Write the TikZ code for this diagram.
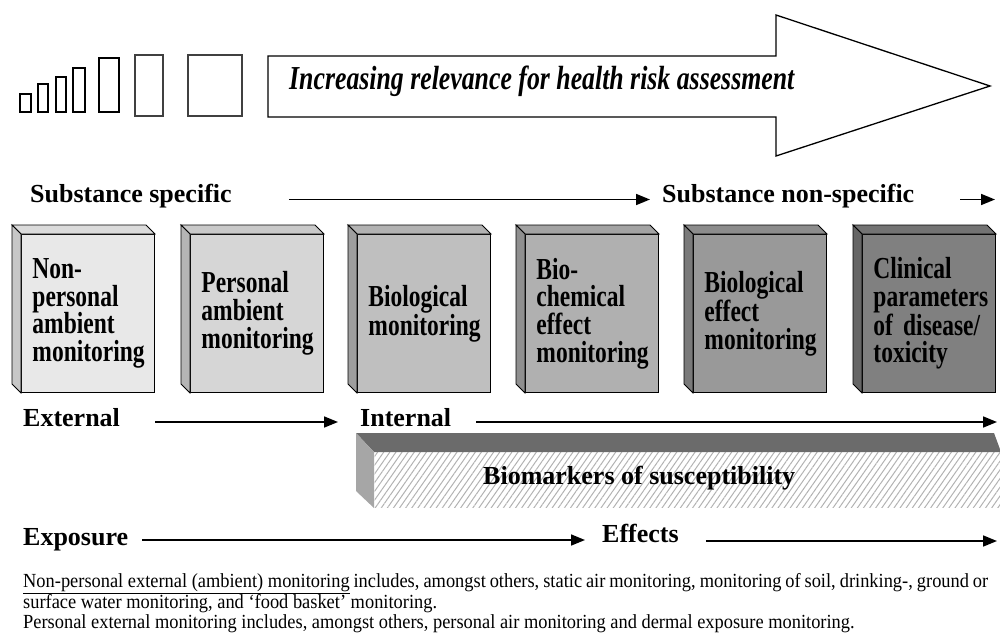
\documentclass[tikz,border=0pt]{standalone}
\usepackage{fontspec}
\setmainfont{Liberation Serif}
\newfontfamily\narrowserif[FakeStretch=0.77]{Liberation Serif}
\newfontfamily\noteserif[FakeStretch=0.92]{Liberation Serif}
\usetikzlibrary{arrows.meta,patterns.meta}

\tikzstyle{stagetext} = [font=\fontsize{26}{30}\selectfont\bfseries, inner sep=0pt, anchor=base west]
\tikzstyle{flow} = [draw, line width=1.7pt, -{Triangle[length=14pt,width=11pt]}]
\tikzstyle{monitor} = [draw, line width=0.9pt, anchor=north west, minimum width=133pt, minimum height=158pt,
  inner xsep=11pt, text width=111pt, align=left,
  font=\fontsize{30.5}{27.7}\selectfont\narrowserif\bfseries]
\tikzstyle{face} = [draw, line width=0.9pt]
\tikzstyle{rung} = [draw, line width=2.3pt]
\tikzstyle{wide rung} = [draw=black!75, line width=1.8pt]
\tikzstyle{note} = [font=\fontsize{20}{18.7}\selectfont\noteserif, inner sep=0pt, anchor=base west]

\begin{document}
\begin{tikzpicture}[x=1pt,y=-1pt]
     \useasboundingbox (0,0) rectangle (1000,634);

     % growing boxes on the left of the big arrow
     \foreach \a/\b/\c/\d in {20/94/31/112, 38/84/48/112, 56/77/66/112, 73/68/85/112, 99/58/119/112}
     \path[rung] (\a,\b) rectangle (\c,\d);
     \foreach \a/\b/\c/\d in {135/55/163/116, 188/55/242/116}
     \path[wide rung] (\a,\b) rectangle (\c,\d);

     % big arrow
     \draw[line width=1.3pt] (268,56) -- (776,56) -- (776,15) -- (990,86) -- (776,156) -- (776,117) -- (268,117) -- cycle;
     \node[font=\fontsize{33.5}{36}\selectfont\narrowserif\bfseries\itshape, inner sep=0pt, anchor=base west]
       (relevance) at (289,89.5) {Increasing relevance for health risk assessment};

     % substance row
     \node[stagetext] (ss) at (30,202.5) {Substance specific};
     \node[stagetext] (sns) at (662,202.5) {Substance non-specific};
     \coordinate (ssend) at (995,199.5);
     \path[flow, shorten <=57pt, shorten >=12pt] ([yshift=3pt]ss.base east) -- ([yshift=3pt]sns.base west);
     \path[flow, shorten <=46pt] ([yshift=3pt]sns.base east) -- (ssend);

     % the six monitoring boxes
     \foreach \x/\tone/\top/\side/\name/\txt in {21/9/14/22/nonpers/{Non-\\personal\\ambient\\monitoring},
       190/16/21/29/pers/{Personal\\ambient\\monitoring}, 357/25/30/38/biomon/{Biological\\monitoring},
       525/31/36/44/biochem/{Bio-\\chemical\\effect\\monitoring}, 693/40/45/52/bioeff/{Biological\\effect\\monitoring},
       862/50/55/60/clinical/{Clinical\\parameters\\\mbox{of disease/}\\toxicity}}
     {
       \node[monitor, fill=black!\tone] (\name) at (\x,234) {\txt};
       \path[face, fill=black!\top] (\name.north west) -- ++(-9,-9)
         -- ([shift={(-9,-9)}]\name.north east) -- (\name.north east) -- cycle;
       \path[face, fill=black!\side] (\name.north west) -- ++(-9,-9)
         -- ([shift={(-9,-9)}]\name.south west) -- (\name.south west) -- cycle;
     }

     % external / internal row
     \node[stagetext] (ext) at (23,426) {External};
     \node[stagetext] (int) at (360,426) {Internal};
     \coordinate (intend) at (997,422);
     \path[flow, shorten <=35pt, shorten >=22pt] ([yshift=4pt]ext.base east) -- ([yshift=4pt]int.base west);
     \path[flow, shorten <=25pt] ([yshift=4pt]int.base east) -- (intend);

     % susceptibility bar
     \node[pattern={Lines[angle=55,distance=5pt,line width=1pt]}, pattern color=black!30,
       minimum width=626pt, minimum height=55pt, inner sep=0pt, anchor=north west] (biomark) at (374,452) {};
     \fill[black!58] (biomark.north west) -- ++(-18,-19) -- ([shift={(-7,-19)}]biomark.north east)
       -- (biomark.north east) -- cycle;
     \fill[black!35] (biomark.north west) -- ++(-18,-19) -- ([shift={(-18,-17)}]biomark.south west)
       -- (biomark.south west) -- cycle;
     \node[stagetext] (biotext) at (483,484) {Biomarkers of susceptibility};

     % exposure / effects row
     \node[stagetext] (expo) at (23,545) {Exposure};
     \node[stagetext] (effects) at (602,542) {Effects};
     \coordinate (effend) at (997,541);
     \path[flow, shorten <=14pt, shorten >=17pt] ([yshift=5pt]expo.base east) -- ([yshift=2pt]effects.base west);
     \path[flow, shorten <=27pt] ([yshift=1pt]effects.base east) -- (effend);

     % notes
     \node[note, text width=965pt, align=justify] (note1) at (23,587)
       {\underline{Non-personal external (ambient) monitoring} includes, amongst others, static air monitoring, monitoring of soil, drinking-, ground or\linebreak surface water monitoring, and ‘food basket’ monitoring.};
     \node[note] (note2) at (23,628.5) {Personal external monitoring includes, amongst others, personal air monitoring and dermal exposure monitoring.};
\end{tikzpicture}
\end{document}
